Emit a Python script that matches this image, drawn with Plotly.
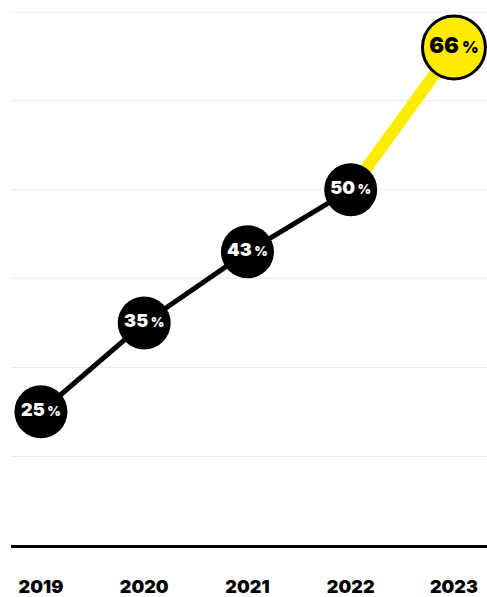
import plotly.graph_objects as go

years = ["2019", "2020", "2021", "2022", "2023"]
values = [25, 35, 43, 50, 66]
highlight_index = 4

BLACK = "#000000"
YELLOW = "#FFEB00"
FONT = "Inter"

fig = go.Figure()

# yellow segment (last two points)
fig.add_trace(go.Scatter(
    x=years[highlight_index - 1:], y=values[highlight_index - 1:],
    mode="lines", line=dict(color=YELLOW, width=12),
    hoverinfo="skip", cliponaxis=False, showlegend=False))

# black segment
fig.add_trace(go.Scatter(
    x=years[:highlight_index], y=values[:highlight_index],
    mode="lines", line=dict(color=BLACK, width=5),
    hoverinfo="skip", cliponaxis=False, showlegend=False))

# black markers with labels
fig.add_trace(go.Scatter(
    x=years[:highlight_index], y=values[:highlight_index],
    mode="markers+text",
    marker=dict(size=53, color=BLACK, line=dict(width=0)),
    text=[f"{v}<span style='font-size:13px'> %</span>" for v in values[:highlight_index]],
    textposition="middle center",
    textfont=dict(family=FONT, size=18, color="white", weight=900),
    cliponaxis=False, showlegend=False))

# highlighted marker
fig.add_trace(go.Scatter(
    x=years[highlight_index:], y=values[highlight_index:],
    mode="markers+text",
    marker=dict(size=63, color=YELLOW, line=dict(width=3, color=BLACK)),
    text=[f"{v}<span style='font-size:16px'> %</span>" for v in values[highlight_index:]],
    textposition="middle center",
    textfont=dict(family=FONT, size=22, color=BLACK, weight=900),
    cliponaxis=False, showlegend=False))

fig.update_layout(
    width=487, height=597,
    margin=dict(l=11, r=0, t=12, b=47),
    paper_bgcolor="white", plot_bgcolor="white",
    showlegend=False,
    xaxis=dict(
        type="category", categoryorder="array", categoryarray=years,
        range=[-0.29, 4.32],
        showgrid=False, zeroline=False,
        showline=True, linecolor=BLACK, linewidth=3,
        ticks="", ticklabelstandoff=23,
        tickfont=dict(family=FONT, size=18, color=BLACK, weight=900),
    ),
    yaxis=dict(
        range=[10, 70], tick0=10, dtick=10, showticklabels=False,
        showgrid=True, gridcolor="#ebebeb", gridwidth=1,
        zeroline=False, showline=False, ticks="",
    ),
    shapes=[dict(type="line", xref="paper", yref="y", x0=0, x1=1, y0=70, y1=70,
                 line=dict(color="#ebebeb", width=1), layer="below")],
)

fig.write_html("out.html")
